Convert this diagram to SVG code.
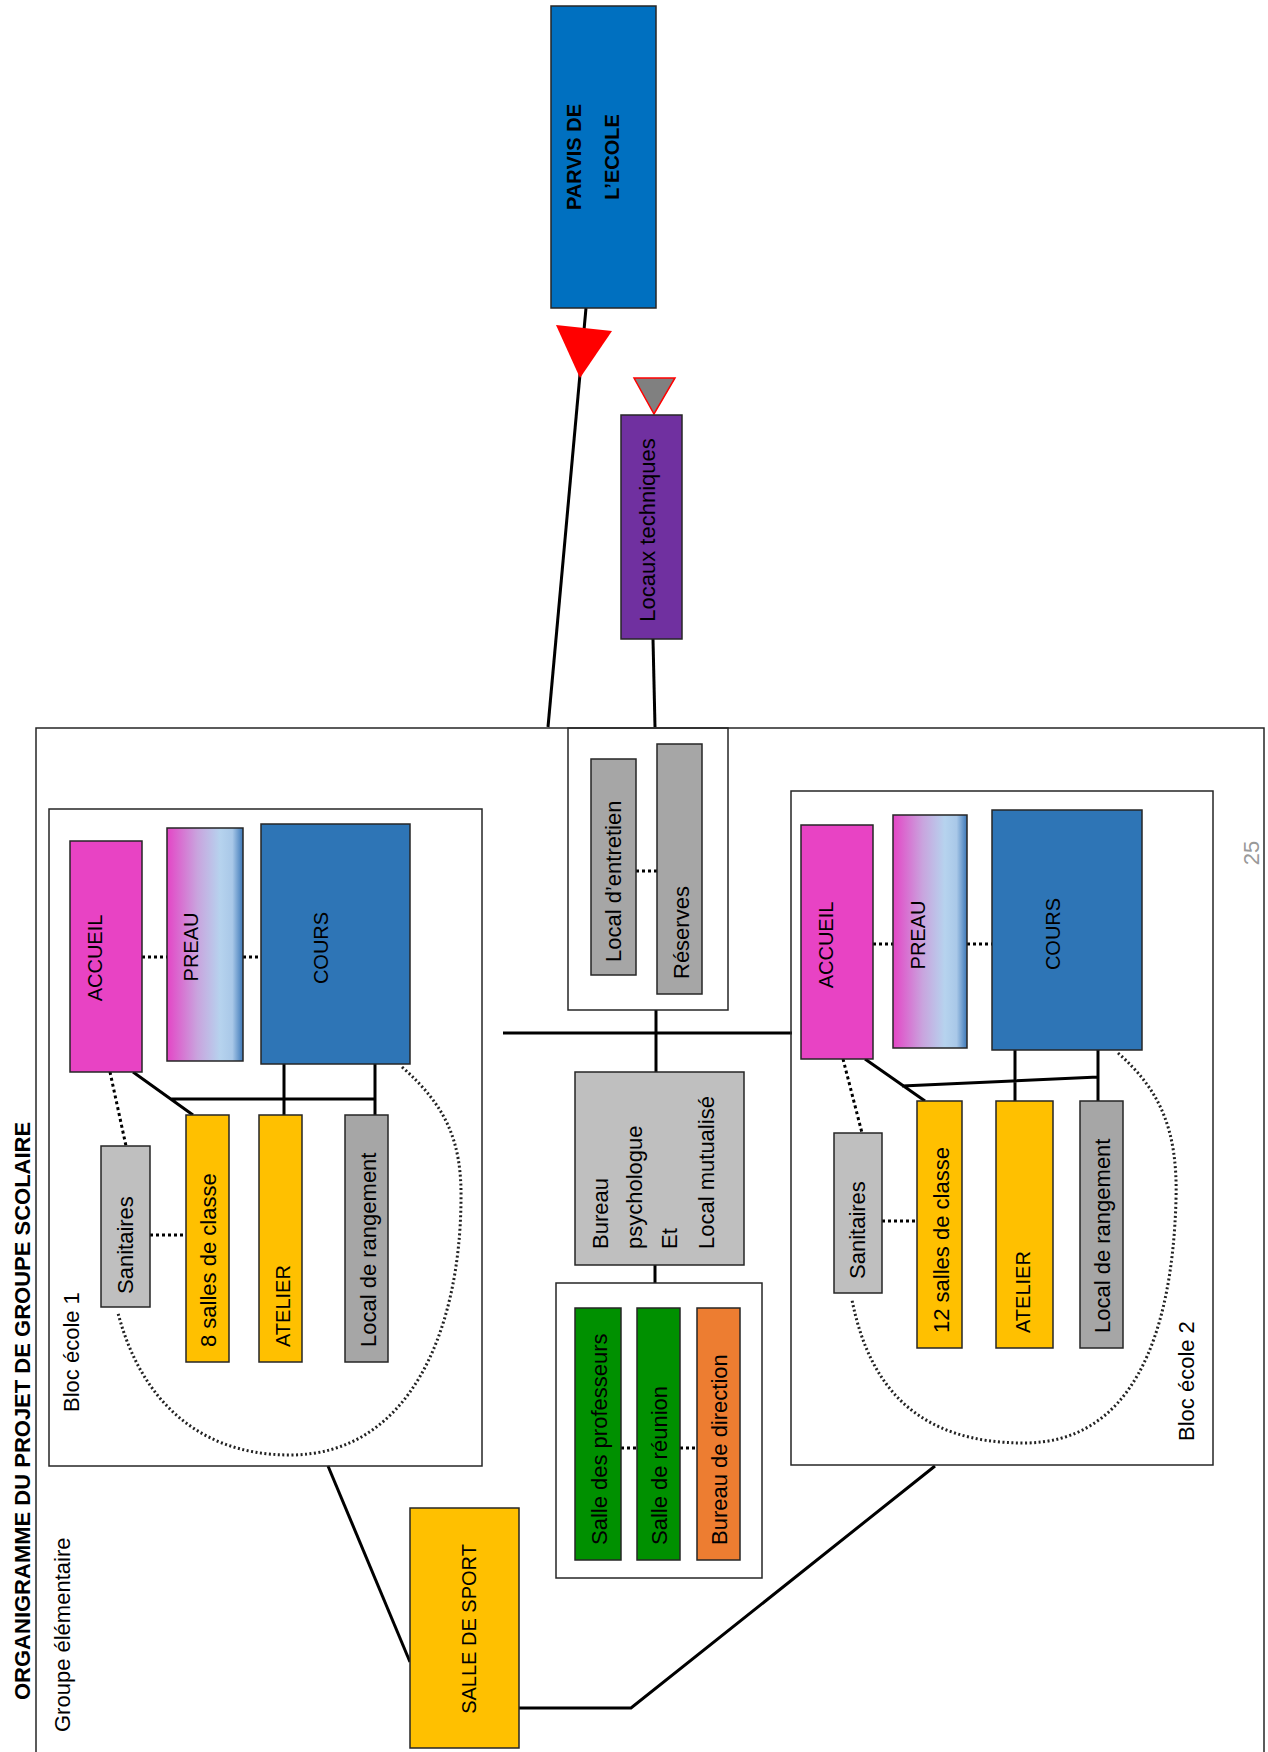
<svg xmlns="http://www.w3.org/2000/svg" width="1268" height="1752" viewBox="0 0 1268 1752">
<style>
text{font-family:"Liberation Sans",Arial,sans-serif;fill:#000;dominant-baseline:central}
.t22{font-size:22px}
.t20{font-size:20px}
.b{font-weight:bold}
.box{stroke:#262626;stroke-width:1.5}
.frame{fill:none;stroke:#262626;stroke-width:1.5}
.con{fill:none;stroke:#000;stroke-width:3}
.dot{fill:none;stroke:#000;stroke-width:3;stroke-dasharray:3 3}
.dotc{fill:none;stroke:#222;stroke-width:3;stroke-dasharray:2 2.5}
.pink{fill:#E843C4}.blue{fill:#2E75B6}.yel{fill:#FFC000}.g1{fill:#BFBFBF}.g2{fill:#A6A6A6}
.grn{fill:#009000}.org{fill:#ED7D31}.pur{fill:#7030A0}.pv{fill:#0070C0}
</style>
<defs>
<linearGradient id="preau" x1="0" y1="0" x2="1" y2="0">
<stop offset="0" stop-color="#E445C6"/>
<stop offset="0.4" stop-color="#C9A4DE"/>
<stop offset="0.7" stop-color="#B6D3EE"/>
<stop offset="0.86" stop-color="#A9C8E8"/>
<stop offset="1" stop-color="#3C78B8"/>
</linearGradient>
</defs>
<rect width="1268" height="1752" fill="#fff"/>

<g id="frame">
<path class="frame" d="M36,1760 V728 H1264 V1760"/>
<text class="t22 b" transform="translate(22,1700) rotate(-90)">ORGANIGRAMME DU PROJET DE GROUPE SCOLAIRE</text>
<text class="t22" transform="translate(62,1732) rotate(-90)">Groupe élémentaire</text>
<text class="t22" style="fill:#999" transform="translate(1251,853) rotate(-90)" text-anchor="middle">25</text>
</g>

<g id="connectors">
<path class="con" d="M586,308 L548,727"/>
<path class="con" d="M653,639 L655,727"/>
<path class="con" d="M503,1033 H792"/>
<path class="con" d="M656,1010 V1072"/>
<path class="con" d="M655,1265 V1283"/>
<path class="con" d="M328,1466 L410,1662"/>
<path class="con" d="M519,1708 H631 L935,1466"/>
<path class="con" d="M133,1072 L193,1115 M171,1099 H375 M284,1064 V1115 M375,1064 V1115"/>
<path class="con" d="M865,1059 L925,1101 M902,1086 L1098,1077 M1015,1050 V1101 M1098,1050 V1101"/>
<path class="dot" d="M142,957 H167 M243,957 H261 M150,1235 H186 M110,1072 L126,1146"/>
<path class="dot" d="M873,944 H893 M967,944 H992 M882,1221 H917 M843,1059 L862,1133"/>
<path class="dot" d="M636,871 H657 M621,1448 H637 M680,1448 H697"/>
<path class="dotc" d="M402,1067 C445,1105 462,1140 461,1200 C460,1330 410,1455 290,1455 C190,1455 138,1390 118,1313"/>
<path class="dotc" d="M1118,1053 C1160,1090 1178,1130 1176,1200 C1172,1340 1130,1443 1024,1443 C920,1443 870,1390 852,1300"/>
<polygon points="556,325 612,331 580,378" fill="#FF0000"/>
<polygon points="634,378 675,378 654,414" fill="#808080" stroke="#FF0000" stroke-width="1.5"/>
</g>

<g id="parvis">
<rect class="box pv" x="551" y="6" width="105" height="302"/>
<text class="t20 b" transform="translate(574,157) rotate(-90)" text-anchor="middle">PARVIS DE</text>
<text class="t20 b" transform="translate(612,157) rotate(-90)" text-anchor="middle">L’ECOLE</text>
</g>

<g id="locaux-techniques">
<rect class="box pur" x="621" y="415" width="61" height="224"/>
<text class="t22" transform="translate(647,530) rotate(-90)" text-anchor="middle">Locaux techniques</text>
</g>

<g id="bloc1">
<rect class="frame" x="49" y="809" width="433" height="657"/>
<text class="t22" transform="translate(71,1412) rotate(-90)">Bloc école 1</text>
</g>
<g id="accueil1"><rect class="box pink" x="70" y="841" width="72" height="231"/><text class="t20" transform="translate(95,958) rotate(-90)" text-anchor="middle">ACCUEIL</text></g>
<g id="preau1"><rect class="box" fill="url(#preau)" x="167" y="828" width="76" height="233"/><text class="t20" transform="translate(191,947) rotate(-90)" text-anchor="middle">PREAU</text></g>
<g id="cours1"><rect class="box blue" x="261" y="824" width="149" height="240"/><text class="t20" transform="translate(321,948) rotate(-90)" text-anchor="middle">COURS</text></g>
<g id="sanitaires1"><rect class="box g1" x="101" y="1146" width="49" height="161"/><text class="t22" transform="translate(125,1294) rotate(-90)">Sanitaires</text></g>
<g id="salles1"><rect class="box yel" x="186" y="1115" width="43" height="247"/><text class="t22" transform="translate(208,1347) rotate(-90)">8 salles de classe</text></g>
<g id="atelier1"><rect class="box yel" x="259" y="1115" width="43" height="247"/><text class="t20" transform="translate(283,1347) rotate(-90)">ATELIER</text></g>
<g id="rangement1"><rect class="box g2" x="345" y="1115" width="43" height="247"/><text class="t22" transform="translate(368,1347) rotate(-90)">Local de rangement</text></g>

<g id="bloc2">
<rect class="frame" x="791" y="791" width="422" height="674"/>
<text class="t22" transform="translate(1186,1441) rotate(-90)">Bloc école 2</text>
</g>
<g id="accueil2"><rect class="box pink" x="801" y="825" width="72" height="234"/><text class="t20" transform="translate(826,945) rotate(-90)" text-anchor="middle">ACCUEIL</text></g>
<g id="preau2"><rect class="box" fill="url(#preau)" x="893" y="815" width="74" height="233"/><text class="t20" transform="translate(918,935) rotate(-90)" text-anchor="middle">PREAU</text></g>
<g id="cours2"><rect class="box blue" x="992" y="810" width="150" height="240"/><text class="t20" transform="translate(1053,934) rotate(-90)" text-anchor="middle">COURS</text></g>
<g id="sanitaires2"><rect class="box g1" x="834" y="1133" width="48" height="160"/><text class="t22" transform="translate(857,1279) rotate(-90)">Sanitaires</text></g>
<g id="salles2"><rect class="box yel" x="917" y="1101" width="45" height="247"/><text class="t22" transform="translate(941,1333) rotate(-90)">12 salles de classe</text></g>
<g id="atelier2"><rect class="box yel" x="996" y="1101" width="57" height="247"/><text class="t20" transform="translate(1023,1333) rotate(-90)">ATELIER</text></g>
<g id="rangement2"><rect class="box g2" x="1080" y="1101" width="43" height="247"/><text class="t22" transform="translate(1102,1333) rotate(-90)">Local de rangement</text></g>

<g id="services">
<rect class="frame" x="568" y="728" width="160" height="282"/>
</g>
<g id="entretien"><rect class="box g2" x="591" y="759" width="45" height="216"/><text class="t22" transform="translate(613,962) rotate(-90)">Local d’entretien</text></g>
<g id="reserves"><rect class="box g2" x="657" y="744" width="45" height="250"/><text class="t22" transform="translate(681,979) rotate(-90)">Réserves</text></g>

<g id="bureau-psy">
<rect class="box g1" x="575" y="1072" width="169" height="193"/>
<text class="t22" transform="translate(600,1249) rotate(-90)">Bureau</text>
<text class="t22" transform="translate(634,1249) rotate(-90)">psychologue</text>
<text class="t22" transform="translate(669,1249) rotate(-90)">Et</text>
<text class="t22" transform="translate(706,1249) rotate(-90)">Local mutualisé</text>
</g>

<g id="administration">
<rect class="frame" x="556" y="1283" width="206" height="295"/>
</g>
<g id="profs"><rect class="box grn" x="575" y="1308" width="46" height="252"/><text class="t22" transform="translate(599,1545) rotate(-90)">Salle des professeurs</text></g>
<g id="reunion"><rect class="box grn" x="637" y="1308" width="43" height="252"/><text class="t22" transform="translate(659,1545) rotate(-90)">Salle de réunion</text></g>
<g id="direction"><rect class="box org" x="697" y="1308" width="43" height="252"/><text class="t22" transform="translate(719,1545) rotate(-90)">Bureau de direction</text></g>

<g id="sport">
<rect class="box yel" x="410" y="1508" width="109" height="240"/>
<text class="t20" transform="translate(469,1629) rotate(-90)" text-anchor="middle">SALLE DE SPORT</text>
</g>
</svg>
